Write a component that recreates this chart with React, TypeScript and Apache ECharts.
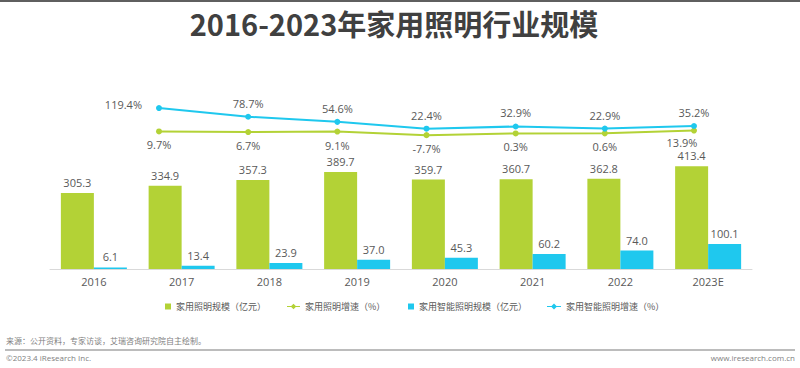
import React, { useEffect, useRef } from "react";
import * as echarts from "echarts";

const categories = ["2016", "2017", "2018", "2019", "2020", "2021", "2022", "2023E"];
const lightingScale = [305.3, 334.9, 357.3, 389.7, 359.7, 360.7, 362.8, 413.4];
const smartScale = [6.1, 13.4, 23.9, 37.0, 45.3, 60.2, 74.0, 100.1];
const growthCategories = ["2017", "2018", "2019", "2020", "2021", "2022", "2023E"];
const lightingGrowth = [9.7, 6.7, 9.1, -7.7, 0.3, 0.6, 13.9];
const smartGrowth = [119.4, 78.7, 54.6, 22.4, 32.9, 22.9, 35.2];

const seriesNames = [
  "家用照明规模（亿元）",
  "家用照明增速（%）",
  "家用智能照明规模（亿元）",
  "家用智能照明增速（%）",
];

const GREEN = "#B3D236";
const BLUE = "#1FC8EE";
const TEXT = "#595959";
const FONT = "'Open Sans', 'Noto Sans CJK SC', sans-serif";
const CJK = "'Noto Sans CJK SC', sans-serif";
const lineIcon = "path://M0,3 L14,3 L14,4 L0,4 Z M7,0.5 L10,3.5 L7,6.5 L4,3.5 Z";

export default function App() {
  const ref = useRef<HTMLDivElement>(null);
  useEffect(() => {
    if (!ref.current) return;
    const chart = echarts.init(ref.current, null, { renderer: "svg" });
    const labelStyle = { color: TEXT, fontSize: 11, fontFamily: FONT };
    const legendText = { color: TEXT, fontSize: 9, fontFamily: CJK };
    chart.setOption({
      animation: false,
      backgroundColor: "#ffffff",
      title: {
        text: "2016-2023年家用照明行业规模",
        left: 389,
        textAlign: "center",
        top: 3,
        textStyle: { fontSize: 29, fontWeight: "bold", color: "#404040", fontFamily: CJK },
      },
      legend: [
        { data: [seriesNames[0]], left: 165, top: 302, padding: 0, itemWidth: 6, itemHeight: 6, icon: "rect", textStyle: legendText },
        { data: [seriesNames[1]], left: 287, top: 302, padding: 0, itemWidth: 13, itemHeight: 6, icon: lineIcon, textStyle: legendText },
        { data: [seriesNames[2]], left: 408, top: 302, padding: 0, itemWidth: 6, itemHeight: 6, icon: "rect", textStyle: legendText },
        { data: [seriesNames[3]], left: 547, top: 302, padding: 0, itemWidth: 14, itemHeight: 6, icon: lineIcon, textStyle: legendText },
      ],
      grid: [
        { left: 50, right: 48, top: 70, bottom: 99 },
        { left: 159, right: 106, top: 70, bottom: 99 },
      ],
      xAxis: [
        {
          type: "category",
          gridIndex: 0,
          data: categories,
          axisTick: { show: false },
          axisLine: { lineStyle: { color: "#d9d9d9" } },
          axisLabel: { color: TEXT, fontSize: 11, fontFamily: FONT, margin: 7 },
        },
        {
          type: "category",
          gridIndex: 1,
          data: growthCategories,
          boundaryGap: false,
          show: false,
        },
      ],
      yAxis: [
        { type: "value", gridIndex: 0, min: 0, max: 800, show: false, splitLine: { show: false } },
        { type: "value", gridIndex: 1, min: -636, max: 298, show: false, splitLine: { show: false } },
      ],
      series: [
        {
          name: seriesNames[0],
          type: "bar",
          xAxisIndex: 0,
          yAxisIndex: 0,
          data: lightingScale,
          barWidth: 33,
          barGap: "0%",
          itemStyle: { color: GREEN },
          label: { show: true, position: "top", distance: 5, ...labelStyle, formatter: (p: any) => p.value.toFixed(1) },
        },
        {
          name: seriesNames[2],
          type: "bar",
          xAxisIndex: 0,
          yAxisIndex: 0,
          data: smartScale,
          barWidth: 33,
          barGap: "0%",
          itemStyle: { color: BLUE },
          label: { show: true, position: "top", distance: 5, ...labelStyle, formatter: (p: any) => p.value.toFixed(1) },
        },
        {
          name: seriesNames[1],
          type: "line",
          xAxisIndex: 1,
          yAxisIndex: 1,
          data: lightingGrowth.map((v, i) =>
            i === lightingGrowth.length - 1
              ? { value: v, label: { offset: [-12, -2] } }
              : v
          ),
          symbol: "circle",
          symbolSize: 6,
          lineStyle: { color: GREEN, width: 2 },
          itemStyle: { color: GREEN },
          label: { show: true, position: "bottom", distance: 5, ...labelStyle, formatter: (p: any) => p.value.toFixed(1) + "%" },
        },
        {
          name: seriesNames[3],
          type: "line",
          xAxisIndex: 1,
          yAxisIndex: 1,
          data: smartGrowth.map((v, i) =>
            i === 0 ? { value: v, label: { position: "left", distance: 14, offset: [0, -4] } } : v
          ),
          symbol: "circle",
          symbolSize: 6,
          lineStyle: { color: BLUE, width: 2 },
          itemStyle: { color: BLUE },
          label: { show: true, position: "top", distance: 5, ...labelStyle, formatter: (p: any) => p.value.toFixed(1) + "%" },
        },
      ],
      graphic: [
        { type: "line", shape: { x1: 0, y1: 1, x2: 800, y2: 1 }, style: { stroke: "#5f5f5f", lineWidth: 2 } },
        {
          type: "text",
          x: 6,
          y: 340,
          style: { text: "来源：公开资料，专家访谈，艾瑞咨询研究院自主绘制。", fontSize: 8, fill: "#7f7f7f", fontFamily: CJK, verticalAlign: "middle" },
        },
        { type: "line", shape: { x1: 5, y1: 350, x2: 795, y2: 350 }, style: { stroke: "#a6a6a6", lineWidth: 1.5 } },
        {
          type: "text",
          x: 6,
          y: 357.5,
          style: { text: "©2023.4 iResearch Inc.", fontSize: 8, fill: "#7f7f7f", fontFamily: FONT, verticalAlign: "middle" },
        },
        {
          type: "text",
          x: 795,
          y: 357.5,
          style: { text: "www.iresearch.com.cn", fontSize: 8, fill: "#7f7f7f", fontFamily: FONT, align: "right", verticalAlign: "middle" },
        },
      ],
    });
    return () => chart.dispose();
  }, []);
  return (
    <div
      ref={ref}
      style={{ position: "fixed", left: 0, top: 0, width: 800, height: 368, background: "#fff" }}
    />
  );
}
